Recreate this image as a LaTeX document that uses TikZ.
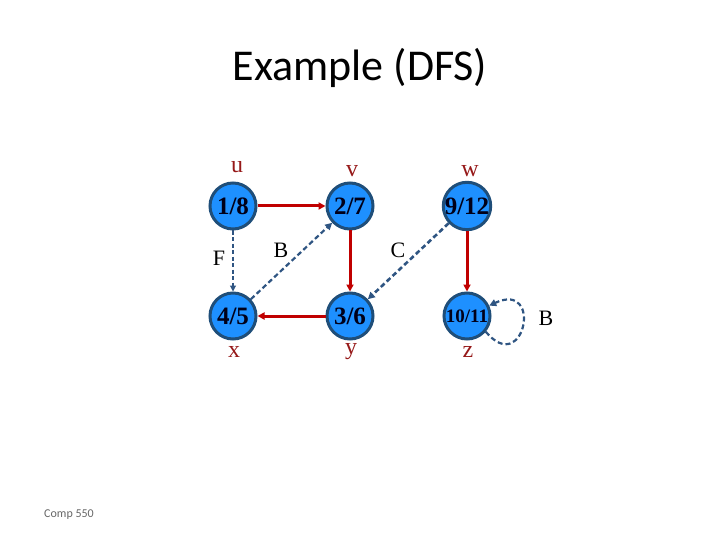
\documentclass[tikz,border=0pt]{standalone}
\usepackage{fontspec}
\setmainfont{Liberation Serif}
\newfontfamily\calib{Carlito}
\usetikzlibrary{arrows.meta}
\definecolor{nodefill}{RGB}{30,144,255}
\definecolor{nodeborder}{RGB}{31,78,121}
\definecolor{treeedge}{RGB}{192,0,0}
\definecolor{backedge}{RGB}{47,85,130}
\definecolor{lblred}{RGB}{150,25,25}
\tikzset{
  vert/.style={circle,draw=nodeborder,line width=3pt,fill=nodefill,minimum size=46pt,inner sep=0pt,font=\bfseries\fontsize{25}{25}\selectfont,text=black!90!blue},
  tree/.style={draw=treeedge,line width=3pt,-{Triangle[length=7pt,width=7pt]}},
  nontree/.style={draw=backedge,dashed,line width=2.2pt,dash pattern=on 5pt off 3pt,-{Triangle[length=7pt,width=7pt]}},
  vname/.style={text=lblred,font=\fontsize{24}{24}\selectfont},
  elabel/.style={text=black,font=\fontsize{22}{22}\selectfont}
}
\begin{document}
\begin{tikzpicture}[x=1pt,y=-1pt]
\useasboundingbox (0,0) rectangle (720,540);
\node[font=\calib\fontsize{44}{44}\selectfont] (title) at (360,68) {Example (DFS)};
\node[font=\calib\fontsize{12}{12}\selectfont,text=black!60] (foot) at (69,515) {Comp 550};

\node[vert] (u) at (233,206) {1/8};
\node[vert] (v) at (350,206) {2/7};
\node[vert] (w) at (467,206) {9/12};
\node[vert] (x) at (233,316) {4/5};
\node[vert] (y) at (350,316) {3/6};
\node[vert,font=\bfseries\fontsize{19}{19}\selectfont] (z) at (467,316) {10/11};

\node[vname] (ul) at (237,167) {u};
\node[vname] (vl) at (352,171) {v};
\node[vname] (wl) at (470,171) {w};
\node[vname] (xl) at (234,352) {x};
\node[vname] (yl) at (351,352) {y};
\node[vname] (zl) at (468,352) {z};

\node[elabel] (F) at (219,258) {F};
\node[elabel] (B1) at (281,250) {B};
\node[elabel] (C) at (398,250) {C};
\node[elabel] (B2) at (546,318) {B};

\draw[tree] (u) -- (v);
\draw[tree] (v) -- (y);
\draw[tree] (y) -- (x);
\draw[tree] (w) -- (z);

\draw[nontree,line width=1.1pt,dash pattern=on 4pt off 2.5pt,-{Triangle[length=6pt,width=6pt]}] (u) -- (x);
\draw[nontree] (x) -- (v);
\draw[nontree,line width=2.6pt] (w) -- (y);
\draw[nontree] (z.-40) to[out=-50,in=25,distance=60pt] (z.25);
\end{tikzpicture}
\end{document}
